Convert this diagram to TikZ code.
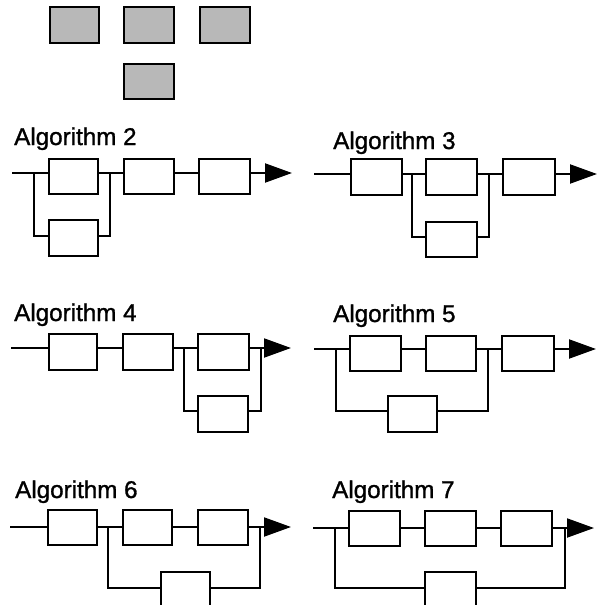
\documentclass[tikz,border=0pt]{standalone}
\usepackage{fontspec}
\setmainfont{Liberation Sans}
\newfontfamily\ttlfont{Liberation Sans}[FakeBold=1.2]
\usetikzlibrary{arrows.meta}
\begin{document}
\begin{tikzpicture}[x=1pt,y=-1pt,
  blk/.style={draw=black,line width=1.5pt,fill=white,inner sep=0pt,minimum width=50pt,minimum height=35pt},
  gbox/.style={draw=black,line width=1.5pt,fill=black!28,inner sep=0pt,minimum width=50pt,minimum height=36pt},
  ln/.style={line width=2pt},
  arr/.style={line width=2pt,-{Triangle[length=27pt,width=19pt]}},
  ttl/.style={anchor=base west,inner sep=0pt,font=\ttlfont\fontsize{24.2}{27}\selectfont}]
\useasboundingbox (0,0) rectangle (600,605);
\clip (0,0) rectangle (600,605);
% gray boxes
\node[gbox,minimum width=49pt] (G1) at (74.5,25) {};
\node[gbox] (G2) at (149,25) {};
\node[gbox] (G3) at (225,25) {};
\node[gbox,minimum height=35pt] (G4) at (149,81.5) {};

% ---------- Algorithm 2
\node[ttl] (T2) at (14,145) {Algorithm 2};
\node[blk,minimum width=49pt] (A2) at (73.5,176.5) {};
\node[blk] (B2) at (149,176.5) {};
\node[blk,minimum width=51pt] (C2) at (224.5,176.5) {};
\node[blk,minimum width=49pt,minimum height=36pt] (D2) at (73.5,238) {};
\coordinate (in2) at (12,173);
\coordinate (out2) at (292,173);
\coordinate (j2L) at (34,173); \coordinate (k2L) at (34,236);
\coordinate (j2R) at (110,173); \coordinate (k2R) at (110,236);
\draw[ln] (in2) -- (in2 -| A2.west);
\draw[ln] (in2 -| A2.east) -- (in2 -| B2.west);
\draw[ln] (in2 -| B2.east) -- (in2 -| C2.west);
\draw[arr] (in2 -| C2.east) -- (out2);
\draw[ln] (j2L) -- (k2L) -- (k2L -| D2.west);
\draw[ln] (k2L -| D2.east) -- (k2R) -- (j2R);

% ---------- Algorithm 3
\node[ttl] (T3) at (333,149) {Algorithm 3};
\node[blk,minimum width=51pt,minimum height=36pt] (A3) at (376.5,177) {};
\node[blk,minimum width=51pt,minimum height=36pt] (B3) at (451.5,177) {};
\node[blk,minimum width=52pt,minimum height=36pt] (C3) at (529,177) {};
\node[blk,minimum width=51pt] (D3) at (451.5,239.5) {};
\coordinate (in3) at (314,174);
\coordinate (out3) at (597,174);
\coordinate (j3L) at (412,174); \coordinate (k3L) at (412,237);
\coordinate (j3R) at (489,174); \coordinate (k3R) at (489,237);
\draw[ln] (in3) -- (in3 -| A3.west);
\draw[ln] (in3 -| A3.east) -- (in3 -| B3.west);
\draw[ln] (in3 -| B3.east) -- (in3 -| C3.west);
\draw[arr] (in3 -| C3.east) -- (out3);
\draw[ln] (j3L) -- (k3L) -- (k3L -| D3.west);
\draw[ln] (k3L -| D3.east) -- (k3R) -- (j3R);

% ---------- Algorithm 4
\node[ttl] (T4) at (14,321) {Algorithm 4};
\node[blk,minimum width=48pt,minimum height=36pt] (A4) at (73,352) {};
\node[blk,minimum height=36pt] (B4) at (148,352) {};
\node[blk,minimum width=51pt,minimum height=36pt] (C4) at (223.5,352) {};
\node[blk,minimum height=36pt] (D4) at (223,414) {};
\coordinate (in4) at (11,348);
\coordinate (out4) at (291,348);
\coordinate (j4L) at (184,348); \coordinate (k4L) at (184,411);
\coordinate (j4R) at (261,348); \coordinate (k4R) at (261,411);
\draw[ln] (in4) -- (in4 -| A4.west);
\draw[ln] (in4 -| A4.east) -- (in4 -| B4.west);
\draw[ln] (in4 -| B4.east) -- (in4 -| C4.west);
\draw[ln] (in4 -| C4.east) -- (j4R);
\draw[arr] (j4R) -- (out4);
\draw[ln] (j4L) -- (k4L) -- (k4L -| D4.west);
\draw[ln] (k4L -| D4.east) -- (k4R) -- (j4R);

% ---------- Algorithm 5
\node[ttl] (T5) at (333,322) {Algorithm 5};
\node[blk,minimum width=51pt] (A5) at (375.5,353.5) {};
\node[blk] (B5) at (451,353.5) {};
\node[blk,minimum width=52pt] (C5) at (528,353.5) {};
\node[blk,minimum width=49pt,minimum height=36pt] (D5) at (412.5,414) {};
\coordinate (in5) at (314,349);
\coordinate (out5) at (596,349);
\coordinate (j5L) at (336,349); \coordinate (k5L) at (336,411);
\coordinate (j5R) at (488,349); \coordinate (k5R) at (488,411);
\draw[ln] (in5) -- (in5 -| A5.west);
\draw[ln] (in5 -| A5.east) -- (in5 -| B5.west);
\draw[ln] (in5 -| B5.east) -- (in5 -| C5.west);
\draw[arr] (in5 -| C5.east) -- (out5);
\draw[ln] (j5L) -- (k5L) -- (k5L -| D5.west);
\draw[ln] (k5L -| D5.east) -- (k5R) -- (j5R);

% ---------- Algorithm 6
\node[ttl] (T6) at (15,498) {Algorithm 6};
\node[blk,minimum width=49pt] (A6) at (72.5,527.5) {};
\node[blk,minimum width=49pt] (B6) at (147.5,527.5) {};
\node[blk] (C6) at (223,527.5) {};
\node[blk,minimum width=49pt,minimum height=50pt] (D6) at (185.5,597) {};
\coordinate (in6) at (10,527);
\coordinate (out6) at (291,527);
\coordinate (j6L) at (108,527); \coordinate (k6L) at (108,588);
\coordinate (j6R) at (260,527); \coordinate (k6R) at (260,588);
\draw[ln] (in6) -- (in6 -| A6.west);
\draw[ln] (in6 -| A6.east) -- (in6 -| B6.west);
\draw[ln] (in6 -| B6.east) -- (in6 -| C6.west);
\draw[ln] (in6 -| C6.east) -- (j6R);
\draw[arr] (j6R) -- (out6);
\draw[ln] (j6L) -- (k6L) -- (k6L -| D6.west);
\draw[ln] (k6L -| D6.east) -- (k6R) -- (j6R);

% ---------- Algorithm 7
\node[ttl] (T7) at (332,498) {Algorithm 7};
\node[blk,minimum width=51pt] (A7) at (374.5,528.5) {};
\node[blk,minimum width=51pt] (B7) at (450.5,528.5) {};
\node[blk,minimum width=51pt] (C7) at (526.5,528.5) {};
\node[blk,minimum width=51pt,minimum height=50pt] (D7) at (450.5,597) {};
\coordinate (in7) at (313,528);
\coordinate (out7) at (594,528);
\coordinate (j7L) at (335,528); \coordinate (k7L) at (335,588);
\coordinate (j7R) at (565,528); \coordinate (k7R) at (565,588);
\draw[ln] (in7) -- (in7 -| A7.west);
\draw[ln] (in7 -| A7.east) -- (in7 -| B7.west);
\draw[ln] (in7 -| B7.east) -- (in7 -| C7.west);
\draw[ln] (in7 -| C7.east) -- (j7R);
\draw[arr] (j7R) -- (out7);
\draw[ln] (j7L) -- (k7L) -- (k7L -| D7.west);
\draw[ln] (k7L -| D7.east) -- (k7R) -- (j7R);
\end{tikzpicture}
\end{document}
